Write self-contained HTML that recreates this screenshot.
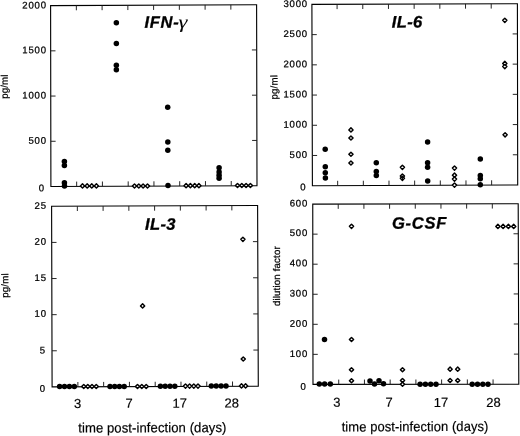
<!DOCTYPE html>
<html lang="en">
<head>
<meta charset="utf-8">
<title>Cytokine levels post-infection</title>
<style>
html,body{margin:0;padding:0;background:#fff;}
body{width:520px;height:436px;overflow:hidden;}
svg{display:block;}
.fr{fill:none;stroke:#000;stroke-width:1.12;}
.tk{fill:none;stroke:#1a1a1a;stroke-width:0.95;}
.dot{fill:#000;}
.dia{fill:#fff;stroke:#000;stroke-width:1.45;stroke-linejoin:round;}
.dn{fill:none;}
text{fill:#000;stroke:#000;stroke-width:0.18px;font-family:"Liberation Sans", sans-serif;text-rendering:geometricPrecision;}
.yl{font-size:9.6px;letter-spacing:0.77px;stroke-width:0.25px;}
.rl{font-size:9.7px;letter-spacing:0.16px;stroke-width:0.25px;}
.xl{font-size:13px;}
.xt{font-size:13.7px;letter-spacing:0.06px;}
.ti{stroke-width:0.3px;font-size:16.6px;font-weight:bold;font-style:italic;letter-spacing:0.7px;}
.t2{letter-spacing:0.35px;}
.gm{font-family:"Liberation Serif", serif;font-weight:normal;font-style:italic;font-size:18.6px;letter-spacing:0;stroke-width:0.05px;}
</style>
</head>
<body>
<svg width="520" height="436" viewBox="0 0 520 436">
<rect width="520" height="436" fill="#fff"/>
<path d="M50.6 5.6L256.6 4.7L257 185.7L50.9 186.5Z" class="fr"/>
<path d="M76.35 5.49v4.8M76.66 186.4v-4.8M102.1 5.38v4.8M102.42 186.3v-4.8M127.85 5.26v4.8M128.19 186.2v-4.8M153.6 5.15v4.8M153.95 186.1v-4.8M179.35 5.04v4.8M179.71 186v-4.8M205.1 4.92v4.8M205.47 185.9v-4.8M230.85 4.81v4.8M231.24 185.8v-4.8M50.67 50.83h4.8M256.7 49.95h-4.8M50.75 96.05h4.8M256.8 95.2h-4.8M50.83 141.28h4.8M256.9 140.45h-4.8" class="tk"/>
<text transform="translate(46.77 8.35) rotate(-0.2)" class="yl" text-anchor="end">2000</text>
<text transform="translate(46.77 53.25) rotate(-0.2)" class="yl" text-anchor="end">1500</text>
<text transform="translate(46.77 98.45) rotate(-0.2)" class="yl" text-anchor="end">1000</text>
<text transform="translate(46.77 143.65) rotate(-0.2)" class="yl" text-anchor="end">500</text>
<text transform="translate(38.7 191.3) rotate(-0.2)" class="yl">0</text>
<circle cx="64.4" cy="161.5" r="2.75" class="dot"/>
<circle cx="64.4" cy="165.6" r="2.75" class="dot"/>
<circle cx="64.4" cy="182.75" r="2.75" class="dot"/>
<circle cx="64.5" cy="186.1" r="2.75" class="dot"/>
<circle cx="116.35" cy="22.85" r="2.75" class="dot"/>
<circle cx="116.35" cy="43.6" r="2.75" class="dot"/>
<circle cx="116.35" cy="65.3" r="2.75" class="dot"/>
<circle cx="116.35" cy="69.7" r="2.75" class="dot"/>
<circle cx="167.7" cy="107.2" r="2.75" class="dot"/>
<circle cx="167.8" cy="142" r="2.75" class="dot"/>
<circle cx="167.8" cy="150.3" r="2.75" class="dot"/>
<circle cx="168" cy="185.5" r="2.75" class="dot"/>
<circle cx="219.1" cy="167.7" r="2.75" class="dot"/>
<circle cx="219.1" cy="172" r="2.75" class="dot"/>
<circle cx="219.1" cy="175.3" r="2.75" class="dot"/>
<circle cx="219.1" cy="178.3" r="2.75" class="dot"/>
<path d="M82.5 183.8l2.1 2.1l-2.1 2.1l-2.1 -2.1z" class="dia"/>
<path d="M87.15 183.8l2.1 2.1l-2.1 2.1l-2.1 -2.1z" class="dia"/>
<path d="M91.75 183.8l2.1 2.1l-2.1 2.1l-2.1 -2.1z" class="dia"/>
<path d="M96.4 183.8l2.1 2.1l-2.1 2.1l-2.1 -2.1z" class="dia"/>
<path d="M134.5 183.9l2.1 2.1l-2.1 2.1l-2.1 -2.1z" class="dia"/>
<path d="M138.8 183.9l2.1 2.1l-2.1 2.1l-2.1 -2.1z" class="dia"/>
<path d="M143.1 183.9l2.1 2.1l-2.1 2.1l-2.1 -2.1z" class="dia"/>
<path d="M147.5 183.9l2.1 2.1l-2.1 2.1l-2.1 -2.1z" class="dia"/>
<path d="M186.1 183.6l2.1 2.1l-2.1 2.1l-2.1 -2.1z" class="dia"/>
<path d="M190.4 183.6l2.1 2.1l-2.1 2.1l-2.1 -2.1z" class="dia"/>
<path d="M194.7 183.6l2.1 2.1l-2.1 2.1l-2.1 -2.1z" class="dia"/>
<path d="M198.9 183.6l2.1 2.1l-2.1 2.1l-2.1 -2.1z" class="dia"/>
<path d="M237.5 183.4l2.1 2.1l-2.1 2.1l-2.1 -2.1z" class="dia"/>
<path d="M241.8 183.4l2.1 2.1l-2.1 2.1l-2.1 -2.1z" class="dia"/>
<path d="M246.1 183.4l2.1 2.1l-2.1 2.1l-2.1 -2.1z" class="dia"/>
<path d="M250.4 183.4l2.1 2.1l-2.1 2.1l-2.1 -2.1z" class="dia"/>
<text transform="translate(144.4 27.8) rotate(-0.2)" class="ti">IFN-</text>
<text transform="translate(178.4 27.9) rotate(-0.2) scale(1.22 1)" class="gm">γ</text>
<text transform="translate(7.75 86.6) rotate(-90.2)" class="rl" text-anchor="middle">pg/ml</text>
<path d="M51.6 206.3L257.6 205.5L258.3 386.2L52.1 386.9Z" class="fr"/>
<path d="M77.35 206.2v4.8M77.88 386.81v-4.8M103.1 206.1v4.8M103.65 386.72v-4.8M128.85 206v4.8M129.43 386.64v-4.8M154.6 205.9v4.8M155.2 386.55v-4.8M180.35 205.8v4.8M180.97 386.46v-4.8M206.1 205.7v4.8M206.75 386.38v-4.8M231.85 205.6v4.8M232.53 386.29v-4.8M51.7 242.42h4.8M257.74 241.64h-4.8M51.8 278.54h4.8M257.88 277.78h-4.8M51.9 314.66h4.8M258.02 313.92h-4.8M52 350.78h4.8M258.16 350.06h-4.8" class="tk"/>
<text transform="translate(46.77 208.85) rotate(-0.2)" class="yl" text-anchor="end">25</text>
<text transform="translate(46.77 244.75) rotate(-0.2)" class="yl" text-anchor="end">20</text>
<text transform="translate(46.77 280.95) rotate(-0.2)" class="yl" text-anchor="end">15</text>
<text transform="translate(46.77 316.65) rotate(-0.2)" class="yl" text-anchor="end">10</text>
<text transform="translate(39.8 353.5) rotate(-0.2)" class="yl">5</text>
<text transform="translate(39.8 391.7) rotate(-0.2)" class="yl">0</text>
<circle cx="59.6" cy="386.5" r="2.75" class="dot"/>
<circle cx="64.5" cy="386.5" r="2.75" class="dot"/>
<circle cx="69.4" cy="386.5" r="2.75" class="dot"/>
<circle cx="74.3" cy="386.5" r="2.75" class="dot"/>
<circle cx="110" cy="386.5" r="2.75" class="dot"/>
<circle cx="114.7" cy="386.5" r="2.75" class="dot"/>
<circle cx="119.4" cy="386.5" r="2.75" class="dot"/>
<circle cx="124.2" cy="386.5" r="2.75" class="dot"/>
<circle cx="160.4" cy="386.3" r="2.75" class="dot"/>
<circle cx="165.2" cy="386.3" r="2.75" class="dot"/>
<circle cx="170" cy="386.3" r="2.75" class="dot"/>
<circle cx="174.8" cy="386.3" r="2.75" class="dot"/>
<circle cx="211.3" cy="386" r="2.75" class="dot"/>
<circle cx="216.2" cy="386" r="2.75" class="dot"/>
<circle cx="221.1" cy="386" r="2.75" class="dot"/>
<circle cx="226" cy="386" r="2.75" class="dot"/>
<path d="M83.75 384.4l2.1 2.1l-2.1 2.1l-2.1 -2.1z" class="dia"/>
<path d="M87.8 384.4l2.1 2.1l-2.1 2.1l-2.1 -2.1z" class="dia"/>
<path d="M92 384.4l2.1 2.1l-2.1 2.1l-2.1 -2.1z" class="dia"/>
<path d="M96.25 384.4l2.1 2.1l-2.1 2.1l-2.1 -2.1z" class="dia"/>
<path d="M137.5 384.4l2.1 2.1l-2.1 2.1l-2.1 -2.1z" class="dia"/>
<path d="M141.8 384.4l2.1 2.1l-2.1 2.1l-2.1 -2.1z" class="dia"/>
<path d="M146.2 384.4l2.1 2.1l-2.1 2.1l-2.1 -2.1z" class="dia"/>
<path d="M142.6 303.8l2.1 2.1l-2.1 2.1l-2.1 -2.1z" class="dia"/>
<path d="M185.5 384l2.1 2.1l-2.1 2.1l-2.1 -2.1z" class="dia"/>
<path d="M189.6 384l2.1 2.1l-2.1 2.1l-2.1 -2.1z" class="dia"/>
<path d="M193.8 384l2.1 2.1l-2.1 2.1l-2.1 -2.1z" class="dia"/>
<path d="M198 384l2.1 2.1l-2.1 2.1l-2.1 -2.1z" class="dia"/>
<path d="M241.5 383.8l2.1 2.1l-2.1 2.1l-2.1 -2.1z" class="dia"/>
<path d="M245.6 383.8l2.1 2.1l-2.1 2.1l-2.1 -2.1z" class="dia"/>
<path d="M243.25 356.9l2.1 2.1l-2.1 2.1l-2.1 -2.1z" class="dia"/>
<path d="M242.9 237.2l2.1 2.1l-2.1 2.1l-2.1 -2.1z" class="dia"/>
<text transform="translate(145 229.7) rotate(-0.2)" class="ti t2">IL-3</text>
<text transform="translate(8.3 285.5) rotate(-90.2)" class="rl" text-anchor="middle">pg/ml</text>
<text transform="translate(77.5 407.9) rotate(-0.2)" class="xl" text-anchor="middle">3</text>
<text transform="translate(129 407.8) rotate(-0.2)" class="xl" text-anchor="middle">7</text>
<text transform="translate(179.7 407.6) rotate(-0.2)" class="xl" text-anchor="middle">17</text>
<text transform="translate(231.8 407.5) rotate(-0.2)" class="xl" text-anchor="middle">28</text>
<text transform="translate(78.2 432.6) rotate(-0.2) scale(0.96 1)" class="xt">time post-infection (days)</text>
<path d="M311.9 4.4L517.4 3.7L517.7 185L312.4 185.7Z" class="fr"/>
<path d="M337.09 4.31v4.8M337.66 185.61v-4.8M362.77 4.23v4.8M363.33 185.52v-4.8M388.46 4.14v4.8M388.99 185.44v-4.8M414.15 4.05v4.8M414.65 185.35v-4.8M439.84 3.96v4.8M440.31 185.26v-4.8M465.52 3.88v4.8M465.98 185.18v-4.8M491.21 3.79v4.8M491.64 185.09v-4.8M311.98 34.62h4.8M517.45 33.92h-4.8M312.07 64.83h4.8M517.5 64.13h-4.8M312.15 95.05h4.8M517.55 94.35h-4.8M312.23 125.27h4.8M517.6 124.57h-4.8M312.32 155.48h4.8M517.65 154.78h-4.8" class="tk"/>
<text transform="translate(307.87 6.95) rotate(-0.2)" class="yl" text-anchor="end">3000</text>
<text transform="translate(307.87 36.95) rotate(-0.2)" class="yl" text-anchor="end">2500</text>
<text transform="translate(307.87 67.25) rotate(-0.2)" class="yl" text-anchor="end">2000</text>
<text transform="translate(307.87 97.35) rotate(-0.2)" class="yl" text-anchor="end">1500</text>
<text transform="translate(307.87 127.55) rotate(-0.2)" class="yl" text-anchor="end">1000</text>
<text transform="translate(307.87 157.85) rotate(-0.2)" class="yl" text-anchor="end">500</text>
<text transform="translate(300.2 190.25) rotate(-0.2)" class="yl">0</text>
<circle cx="325.2" cy="149.25" r="2.75" class="dot"/>
<circle cx="325.3" cy="166.8" r="2.75" class="dot"/>
<circle cx="325.3" cy="172.75" r="2.75" class="dot"/>
<circle cx="325.4" cy="177.9" r="2.75" class="dot"/>
<circle cx="376.3" cy="162.75" r="2.75" class="dot"/>
<circle cx="376.3" cy="171.5" r="2.75" class="dot"/>
<circle cx="376.3" cy="175.5" r="2.75" class="dot"/>
<circle cx="427.6" cy="142" r="2.75" class="dot"/>
<circle cx="427.6" cy="162.7" r="2.75" class="dot"/>
<circle cx="427.6" cy="167.2" r="2.75" class="dot"/>
<circle cx="427.7" cy="181.1" r="2.75" class="dot"/>
<circle cx="480.3" cy="159.1" r="2.75" class="dot"/>
<circle cx="480.3" cy="175.4" r="2.75" class="dot"/>
<circle cx="480.3" cy="178.8" r="2.75" class="dot"/>
<circle cx="480.3" cy="184.8" r="2.75" class="dot"/>
<path d="M350.95 127.8l2.1 2.1l-2.1 2.1l-2.1 -2.1z" class="dia"/>
<path d="M350.95 135.9l2.1 2.1l-2.1 2.1l-2.1 -2.1z" class="dia"/>
<path d="M350.95 152.15l2.1 2.1l-2.1 2.1l-2.1 -2.1z" class="dia"/>
<path d="M350.95 160.9l2.1 2.1l-2.1 2.1l-2.1 -2.1z" class="dia"/>
<path d="M402.4 165.2l2.1 2.1l-2.1 2.1l-2.1 -2.1z" class="dia"/>
<path d="M454.5 166l2.1 2.1l-2.1 2.1l-2.1 -2.1z" class="dia"/>
<path d="M454.5 173.1l2.1 2.1l-2.1 2.1l-2.1 -2.1z" class="dia"/>
<path d="M454.5 177l2.1 2.1l-2.1 2.1l-2.1 -2.1z" class="dia"/>
<path d="M454.5 183l2.1 2.1l-2.1 2.1l-2.1 -2.1z" class="dia"/>
<path d="M505.1 132.7l2.1 2.1l-2.1 2.1l-2.1 -2.1z" class="dia"/>
<path d="M504.8 61.3l2.1 2.1l-2.1 2.1l-2.1 -2.1z" class="dia"/>
<path d="M504.8 64.5l2.1 2.1l-2.1 2.1l-2.1 -2.1z" class="dia"/>
<path d="M504.8 18.2l2.1 2.1l-2.1 2.1l-2.1 -2.1z" class="dia"/>
<text transform="translate(391.8 27.6) rotate(-0.2)" class="ti t2">IL-6</text>
<path d="M402.4 174l2.1 2.1l-2.1 2.1l-2.1 -2.1z" class="dia dn"/>
<path d="M402.4 176.2l2.1 2.1l-2.1 2.1l-2.1 -2.1z" class="dia dn"/>
<text transform="translate(277.4 87.3) rotate(-90.2)" class="rl" text-anchor="middle">pg/ml</text>
<path d="M312.75 204.1L518.2 203.7L518.8 384.2L313 384.4Z" class="fr"/>
<path d="M338.23 204.05v4.8M338.73 384.38v-4.8M363.91 204v4.8M364.45 384.35v-4.8M389.59 203.95v4.8M390.17 384.32v-4.8M415.28 203.9v4.8M415.9 384.3v-4.8M440.96 203.85v4.8M441.62 384.27v-4.8M466.64 203.8v4.8M467.35 384.25v-4.8M492.32 203.75v4.8M493.07 384.22v-4.8M312.79 234.15h4.8M518.3 233.78h-4.8M312.83 264.2h4.8M518.4 263.87h-4.8M312.88 294.25h4.8M518.5 293.95h-4.8M312.92 324.3h4.8M518.6 324.03h-4.8M312.96 354.35h4.8M518.7 354.12h-4.8" class="tk"/>
<text transform="translate(308.07 206.55) rotate(-0.2)" class="yl" text-anchor="end">600</text>
<text transform="translate(308.07 235.95) rotate(-0.2)" class="yl" text-anchor="end">500</text>
<text transform="translate(308.07 266.25) rotate(-0.2)" class="yl" text-anchor="end">400</text>
<text transform="translate(308.07 296.45) rotate(-0.2)" class="yl" text-anchor="end">300</text>
<text transform="translate(308.07 326.65) rotate(-0.2)" class="yl" text-anchor="end">200</text>
<text transform="translate(308.07 356.95) rotate(-0.2)" class="yl" text-anchor="end">100</text>
<text transform="translate(300.6 389.7) rotate(-0.2)" class="yl">0</text>
<circle cx="319.3" cy="384.1" r="2.75" class="dot"/>
<circle cx="324.6" cy="384.1" r="2.75" class="dot"/>
<circle cx="330.3" cy="384.1" r="2.75" class="dot"/>
<circle cx="324.5" cy="339.5" r="2.75" class="dot"/>
<circle cx="370" cy="381" r="2.75" class="dot"/>
<circle cx="374.5" cy="384" r="2.75" class="dot"/>
<circle cx="379" cy="380.75" r="2.75" class="dot"/>
<circle cx="383.5" cy="383.75" r="2.75" class="dot"/>
<circle cx="420.1" cy="384.2" r="2.75" class="dot"/>
<circle cx="425.4" cy="384.2" r="2.75" class="dot"/>
<circle cx="430.7" cy="384.2" r="2.75" class="dot"/>
<circle cx="436" cy="384.2" r="2.75" class="dot"/>
<circle cx="472.2" cy="384.2" r="2.75" class="dot"/>
<circle cx="477.5" cy="384.2" r="2.75" class="dot"/>
<circle cx="482.8" cy="384.2" r="2.75" class="dot"/>
<circle cx="488" cy="384.2" r="2.75" class="dot"/>
<path d="M351.5 224.2l2.1 2.1l-2.1 2.1l-2.1 -2.1z" class="dia"/>
<path d="M351.5 337.4l2.1 2.1l-2.1 2.1l-2.1 -2.1z" class="dia"/>
<path d="M351.5 367.65l2.1 2.1l-2.1 2.1l-2.1 -2.1z" class="dia"/>
<path d="M351.5 378.65l2.1 2.1l-2.1 2.1l-2.1 -2.1z" class="dia"/>
<path d="M402.5 367.65l2.1 2.1l-2.1 2.1l-2.1 -2.1z" class="dia"/>
<path d="M402.5 378.4l2.1 2.1l-2.1 2.1l-2.1 -2.1z" class="dia"/>
<path d="M402.5 382.15l2.1 2.1l-2.1 2.1l-2.1 -2.1z" class="dia"/>
<path d="M450.1 367.1l2.1 2.1l-2.1 2.1l-2.1 -2.1z" class="dia"/>
<path d="M457.7 367.1l2.1 2.1l-2.1 2.1l-2.1 -2.1z" class="dia"/>
<path d="M450.1 378.4l2.1 2.1l-2.1 2.1l-2.1 -2.1z" class="dia"/>
<path d="M457.7 378.4l2.1 2.1l-2.1 2.1l-2.1 -2.1z" class="dia"/>
<path d="M497.9 224.3l2.1 2.1l-2.1 2.1l-2.1 -2.1z" class="dia"/>
<path d="M503.1 224.3l2.1 2.1l-2.1 2.1l-2.1 -2.1z" class="dia"/>
<path d="M508.4 224.3l2.1 2.1l-2.1 2.1l-2.1 -2.1z" class="dia"/>
<path d="M513.7 224.3l2.1 2.1l-2.1 2.1l-2.1 -2.1z" class="dia"/>
<text transform="translate(392 228.7) rotate(-0.2)" class="ti">G-CSF</text>
<text transform="translate(280 276.1) rotate(-90.2)" class="rl" text-anchor="middle">dilution factor</text>
<text transform="translate(336.8 406.85) rotate(-0.2)" class="xl" text-anchor="middle">3</text>
<text transform="translate(389 406.85) rotate(-0.2)" class="xl" text-anchor="middle">7</text>
<text transform="translate(441.1 406.85) rotate(-0.2)" class="xl" text-anchor="middle">17</text>
<text transform="translate(493.6 406.85) rotate(-0.2)" class="xl" text-anchor="middle">28</text>
<text transform="translate(341.7 431.45) rotate(-0.2) scale(0.95 1)" class="xt">time post-infection (days)</text>
</svg>
</body>
</html>
